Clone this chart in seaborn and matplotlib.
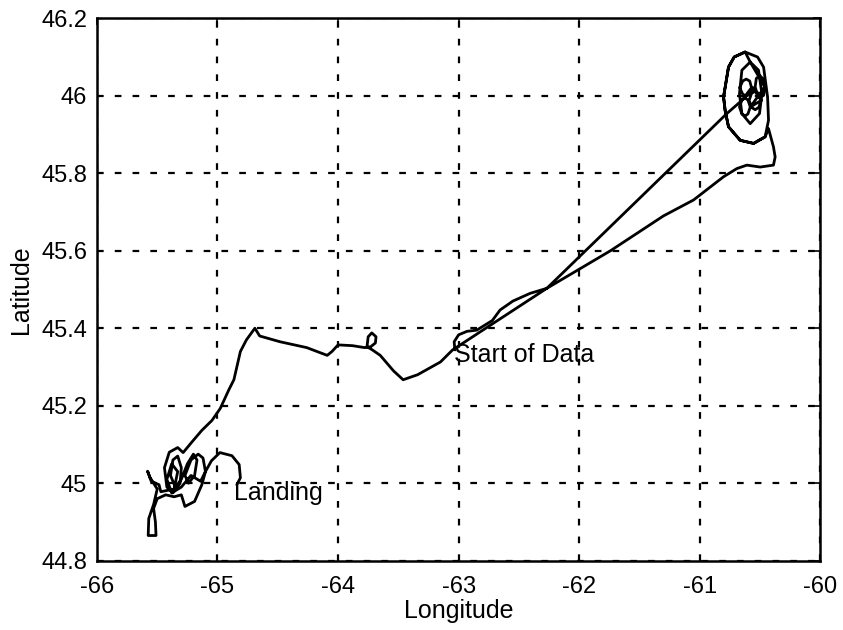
import numpy as np
import pandas as pd
import seaborn as sns
import matplotlib.pyplot as plt

# flight track, in flying order
lon = [
    # start of data, hook and bump up to the straight leg
    -63.03, -63.037, -63.00, -62.93, -62.85, -62.72, -62.656, -62.55, -62.407, -62.268,
    # straight leg out to the loops
    -60.775, -60.65,
    # small petals at the centre
    -60.57, -60.585, -60.614, -60.643, -60.668, -60.643, -60.614, -60.585, -60.56,
    -60.49, -60.51, -60.54, -60.57, -60.59, -60.57, -60.54, -60.51, -60.49,
    -60.58, -60.60, -60.623, -60.65, -60.67, -60.65, -60.623, -60.60, -60.58,
    -60.46, -60.48, -60.50, -60.53, -60.54, -60.52, -60.50, -60.47, -60.46,
    # medium ellipse
    -60.581, -60.512, -60.484, -60.504, -60.581, -60.650, -60.670, -60.650, -60.581,
    # outer egg
    -60.623, -60.714, -60.761, -60.802, -60.789, -60.761, -60.664, -60.553, -60.457,
    -60.429, -60.437, -60.470, -60.520, -60.623, -60.714, -60.761, -60.802, -60.789,
    -60.761, -60.664, -60.553, -60.457, -60.429,
    # return leg
    -60.388, -60.374, -60.388, -60.498, -60.609, -60.692, -60.802, -61.051, -61.30,
    -61.74, -62.268, -63.05,
    # trough and the small loop
    -63.15, -63.34, -63.46, -63.54, -63.65, -63.72, -63.76, -63.75, -63.72, -63.685,
    -63.69, -63.73, -63.78, -63.88, -64.00, -64.05, -64.09, -64.26, -64.48, -64.65,
    -64.69, -64.76, -64.81, -64.84,
    # descent to the landing area
    -64.864, -64.906, -64.977, -65.046, -65.131, -65.216, -65.285,
    # loops near landing
    -65.33, -65.40, -65.44, -65.42, -65.37, -65.31, -65.30, -65.33, -65.37, -65.39,
    -65.35, -65.30, -65.25, -65.20, -65.17, -65.19, -65.24, -65.27, -65.22, -65.16,
    -65.12, -65.10, -65.14, -65.22, -65.30, -65.38, -65.42, -65.38, -65.33, -65.36,
    -65.47, -65.485, -65.55, -65.58, -65.56, -65.50, -65.53, -65.57, -65.575, -65.51,
    -65.515, -65.53, -65.50, -65.43, -65.36, -65.30, -65.27, -65.19, -65.13, -65.10,
    -65.05, -64.98, -64.88, -64.82, -64.81, -64.84,
]
lat = [
    45.344, 45.365, 45.383, 45.392, 45.395, 45.42, 45.447, 45.47, 45.490, 45.503,
    45.954, 45.988,
    46.021, 46.038, 46.043, 46.038, 46.021, 46.004, 45.999, 46.004, 46.021,
    45.988, 46.006, 46.012, 46.006, 45.988, 45.970, 45.964, 45.970, 45.988,
    45.971, 45.989, 45.994, 45.989, 45.971, 45.953, 45.948, 45.953, 45.971,
    46.023, 46.045, 46.052, 46.045, 46.023, 46.001, 45.995, 46.001, 46.023,
    46.087, 46.066, 46.005, 45.954, 45.928, 45.954, 46.005, 46.066, 46.087,
    46.113, 46.100, 46.074, 45.997, 45.962, 45.920, 45.885, 45.877, 45.894,
    45.937, 45.997, 46.074, 46.100, 46.113, 46.100, 46.074, 45.997, 45.962,
    45.920, 45.885, 45.877, 45.894, 45.915,
    45.868, 45.842, 45.821, 45.816, 45.821, 45.812, 45.791, 45.731, 45.69,
    45.600, 45.503, 45.344,
    45.313, 45.280, 45.267, 45.290, 45.330, 45.345, 45.352, 45.378, 45.388, 45.378,
    45.362, 45.352, 45.350, 45.355, 45.357, 45.340, 45.330, 45.350, 45.365, 45.380,
    45.400, 45.370, 45.340, 45.30,
    45.267, 45.241, 45.193, 45.162, 45.136, 45.105, 45.079,
    45.092, 45.080, 45.040, 44.990, 44.975, 45.000, 45.040, 45.070, 45.060, 45.020,
    44.990, 45.010, 45.050, 45.075, 45.060, 45.020, 45.000, 45.020, 45.060, 45.075,
    45.065, 45.030, 45.005, 45.020, 44.990, 44.975, 45.010, 45.050, 45.030, 44.985,
    44.978, 44.996, 45.005, 45.031, 45.015, 44.985, 44.945, 44.909, 44.865, 44.865,
    44.900, 44.935, 44.960, 44.970, 44.965, 44.970, 44.940, 44.953, 44.996, 45.030,
    45.058, 45.079, 45.071, 45.048, 45.014, 44.996,
]
step = list(range(len(lon)))

xticks = [-66, -65, -64, -63, -62, -61, -60]
yticks = [44.8, 45, 45.2, 45.4, 45.6, 45.8, 46, 46.2]
yticklabels = ['44.8', '45', '45.2', '45.4', '45.6', '45.8', '46', '46.2']

df = pd.DataFrame({'step': step, 'Longitude': lon, 'Latitude': lat})

sns.set_theme(style='white')
plt.rcParams['font.family'] = ['Liberation Sans', 'DejaVu Sans']
plt.rcParams['text.color'] = 'black'
plt.rcParams['axes.labelcolor'] = 'black'

fig = plt.figure(figsize=(8.43, 6.3), dpi=100)
ax = fig.add_axes([0.115, 0.11, 0.858, 0.861])

sns.lineplot(data=df, x='Longitude', y='Latitude', sort=False, estimator=None,
             color='black', linewidth=2.0, ax=ax)

ax.set_xlim(-66, -60)
ax.set_ylim(44.8, 46.2)
ax.set_xticks(xticks)
ax.set_xticklabels([str(t) for t in xticks])
ax.set_yticks(yticks)
ax.set_yticklabels(yticklabels)
ax.grid(True, color='black', linestyle=(0, (3, 5)), linewidth=1.6)
ax.tick_params(direction='in', length=5, width=1.2, top=True, right=True,
               labelsize=17, colors='black')
ax.tick_params(axis='x', pad=11)
ax.tick_params(axis='y', pad=7)
for s in ax.spines.values():
    s.set_color('black')
    s.set_linewidth(1.8)

ax.set_xlabel('Longitude', fontsize=18, labelpad=1)
ax.set_ylabel('Latitude', fontsize=18, labelpad=6)

ax.text(-64.86, 44.975, 'Landing', fontsize=18, ha='left', va='center')
ax.text(-63.04, 45.33, 'Start of Data', fontsize=18, ha='left', va='center')

fig.savefig('out.png', dpi=100)
